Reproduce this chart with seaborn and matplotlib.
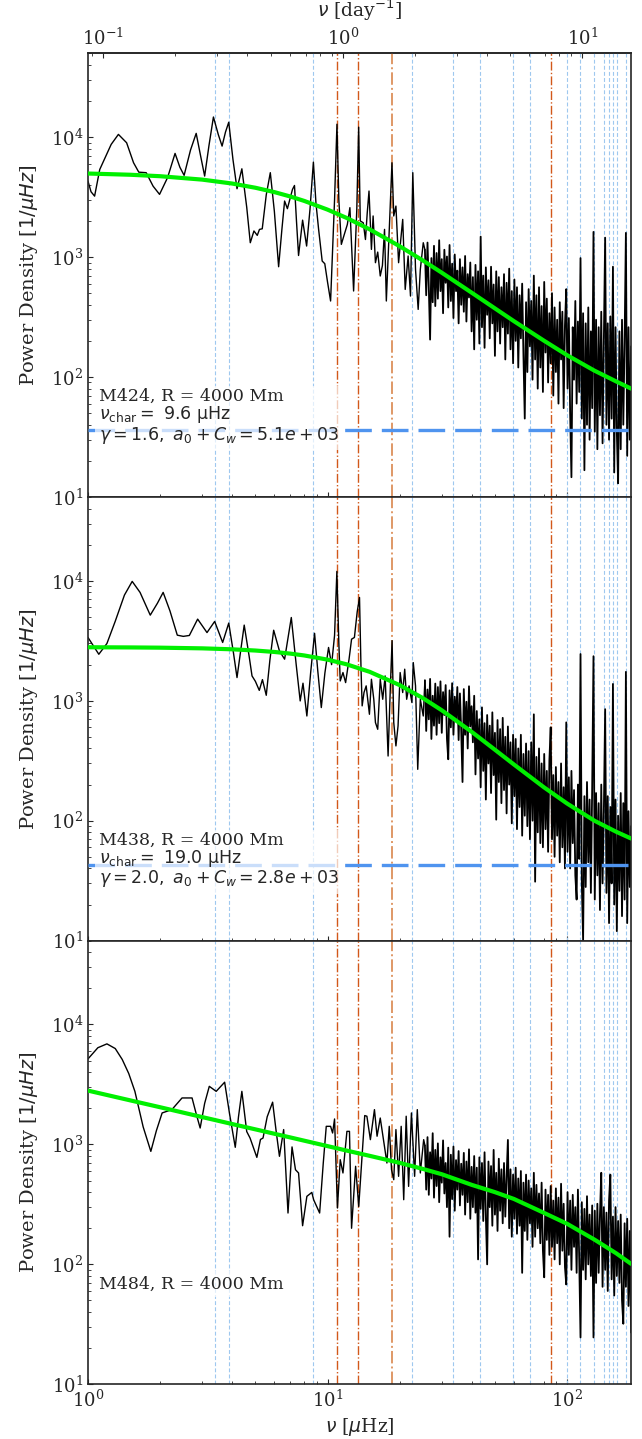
import numpy as np
import matplotlib
matplotlib.use('Agg')
import matplotlib.pyplot as plt
import seaborn as sns

# --- marked frequencies [µHz] ---
blue_lines = [3.38, 3.87, 8.73, 22.6, 33.4, 43.3, 59.3, 69.8, 100.0, 112.9,
              129.0, 143.0, 150.0, 155.6, 161.7, 177.0]
orange_lines = [10.96, 13.45, 85.8]
orange_light_lines = [18.6]

# --- panel info ---
names = ['M424', 'M438', 'M484']
nu_char = [9.6, 19.0, None]
gamma = [1.6, 2.0, None]
a0_cw = ['5.1e+03', '2.8e+03', None]
white_noise = [36.3, 42.6, None]

# --- low frequency part of the spectra ---
f1_lo = [1.0, 1.03, 1.066, 1.12, 1.25, 1.34, 1.45, 1.55, 1.63, 1.75, 1.87, 1.99, 2.15, 2.31,
         2.42, 2.52, 2.68, 2.83, 2.96, 3.07, 3.2, 3.34, 3.5, 3.63, 3.75, 3.87, 4.03, 4.19,
         4.39, 4.6, 4.76, 4.93, 5.09, 5.2, 5.34, 5.55, 5.77, 6.0, 6.25, 6.45, 6.62, 6.8,
         7.14, 7.28, 7.42, 7.57, 7.87, 8.18, 8.45, 8.73, 8.95, 9.18, 9.5, 9.74, 10.0, 10.3,
         10.7, 10.95, 11.15, 11.42, 11.7, 12.1, 12.4, 12.85, 13.25, 13.49, 13.7, 14.1, 14.4,
         14.65, 14.9, 15.25, 15.5, 15.85, 16.2, 16.6, 16.95, 17.3, 17.6, 18.2, 18.58, 18.9,
         19.3, 19.8, 20.1, 20.6, 21.1, 21.7, 22.2, 22.7, 23.3, 23.9, 24.4, 25.1]
p1_lo = [4300, 3500, 3220, 5370, 8690, 10530, 8970, 6110, 5100, 5050, 3900, 3330, 4600, 7310,
         5600, 4800, 7800, 10740, 6800, 4730, 8500, 14700, 10500, 8410, 11000, 13300, 6500, 3710,
         5440, 2600, 1316, 1650, 1515, 1700, 1720, 3300, 5050, 2400, 830, 1700, 2930, 2530,
         3660, 3950, 2000, 1030, 2030, 1235, 2500, 6190, 2800, 1700, 926, 880, 620, 430,
         3000, 12800, 3000, 1275, 1500, 1870, 2580, 521, 2500, 12100, 2000, 1930, 1400,
         2340, 3550, 1158, 2200, 897, 1100, 695, 850, 1700, 430, 2200, 6110, 2200,
         2660, 897, 1235, 2060, 537, 1020, 473, 5050, 789, 366, 789, 1316]

f2_lo = [1.0, 1.11, 1.2, 1.3, 1.42, 1.53, 1.65, 1.82, 1.95, 2.06, 2.2, 2.36, 2.5, 2.65, 2.87,
         3.14, 3.38, 3.65, 3.87, 4.05, 4.19, 4.35, 4.49, 4.7, 4.84, 5.0, 5.19, 5.35, 5.55,
         5.75, 5.96, 6.3, 6.62, 7.06, 7.4, 7.69, 7.9, 8.2, 8.5, 8.83, 9.1, 9.42, 9.75, 10.1,
         10.4, 10.7, 10.94, 11.15, 11.3, 11.6, 11.9, 12.3, 12.6, 12.95, 13.3, 13.6, 13.8,
         13.95, 14.2, 14.5, 14.96, 15.25, 15.6, 15.85, 16.2, 16.6, 17.0, 17.4, 17.9, 18.3,
         18.6, 18.9, 19.3, 19.7, 20.1, 20.6, 21.0, 21.4, 21.9, 22.5, 22.8, 23.3, 23.8, 24.4, 25.1]
p2_lo = [3370, 2440, 3000, 4600, 7600, 9880, 8000, 5170, 6500, 8000, 5600, 3520, 3440, 3500, 4790,
         3700, 4580, 3060, 4440, 2500, 1560, 2700, 4270, 2400, 1610, 1450, 1220, 1500, 1110,
         2200, 3870, 2600, 2220, 4940, 2000, 996, 1400, 746, 1700, 3650, 1800, 877, 1700, 2780,
         2000, 3500, 11970, 3000, 1462, 1718, 1416, 2220, 3260, 3370, 5500, 7260, 1832,
         906, 1170, 1330, 771, 1510, 1028, 658, 578, 1510, 1028, 1610, 346, 1330,
         3170, 658, 420, 617, 1718, 1170, 1832, 1028, 1330, 966, 2080, 1330, 268, 1028, 746]

f3_lo = [1.0, 1.1, 1.2, 1.3, 1.39, 1.48, 1.57, 1.7, 1.83, 1.93, 2.04, 2.24, 2.47, 2.72, 2.83,
         2.94, 3.07, 3.21, 3.43, 3.72, 3.9, 4.12, 4.25, 4.39, 4.6, 4.75, 5.07, 5.25, 5.38, 5.6,
         5.9, 6.1, 6.3, 6.56, 6.84, 7.11, 7.35, 7.57, 7.87, 8.2, 8.6, 8.75, 9.27, 9.6, 9.88,
         10.3, 10.5, 10.7, 11.0, 11.3, 11.6, 12.05, 12.35, 12.6, 13.1, 13.5, 14.3, 14.6, 15.1,
         15.7, 16.1, 16.6, 17.2, 17.7, 18.1, 18.5, 18.9, 19.3, 19.8, 20.3, 20.8, 21.3, 21.8,
         22.4, 23.1, 23.7, 24.4, 25.2]
p3_lo = [5160, 6400, 6890, 6300, 5110, 3900, 2770, 1400, 875, 1300, 1830, 1950, 2440, 2440, 1800,
         1370, 2200, 3050, 2770, 3300, 1800, 946, 1700, 2770, 1280, 1130, 780, 1100, 1130, 1700,
         2250, 1300, 796, 1330, 268, 953, 615, 578, 210, 369, 398, 346, 268, 700, 1415,
         1415, 1245, 1630, 295, 746, 578, 1285, 1285, 200, 657, 304, 1740, 1718, 1096,
         1950, 1170, 1660, 1030, 700, 1415, 615, 508, 1330, 542, 1415, 346, 1718, 447,
         1830, 542, 1950, 578, 1096]

f_dense = np.geomspace(25.5, 185.0, 160)
p1_hi = [1150, 480, 1320, 560, 205, 980, 420, 1240, 390, 1080,
         450, 1380, 520, 960, 340, 1150, 610, 1010, 380, 1260,
         430, 880, 310, 1050, 520, 770, 280, 960, 400, 820,
         350, 1020, 290, 720, 460, 900, 240, 680, 170, 860,
         300, 760, 190, 1480, 260, 700, 175, 820, 330, 640,
         210, 830, 280, 590, 150, 760, 240, 680, 190, 560,
         260, 720, 140, 610, 230, 800, 170, 520, 130, 650,
         200, 560, 120, 480, 210, 600, 150, 45, 420, 110,
         540, 180, 430, 95, 700, 140, 480, 80, 560, 120,
         390, 75, 620, 160, 450, 90, 340, 130, 500, 70,
         380, 110, 300, 60, 420, 140, 350, 55, 270, 540,
         80, 310, 50, 14.6, 260, 95, 430, 60, 290, 75,
         980, 45, 340, 16.7, 280, 40, 380, 30, 240, 55,
         1620, 35, 300, 25, 260, 48, 350, 28, 210, 1450,
         40, 280, 30, 320, 45, 830, 16, 260, 35, 13,
         240, 25, 300, 40, 200, 1590, 22, 260, 30, 180]
p2_hi = [1480, 560, 1240, 700, 1520, 480, 1100, 620, 1390, 520,
         1300, 650, 1450, 540, 1180, 760, 1350, 480, 325, 1220,
         600, 1400, 520, 1080, 700, 1300, 470, 1150, 560, 210,
         1250, 520, 980, 400, 1320, 610, 900, 450, 1100, 243,
         820, 330, 700, 190, 880, 260, 650, 150, 760, 300,
         620, 170, 800, 240, 540, 102, 690, 210, 580, 140,
         720, 180, 500, 115, 610, 200, 450, 95, 520, 160,
         480, 85, 400, 130, 520, 75, 360, 110, 440, 90,
         380, 70, 450, 100, 770, 31, 340, 80, 400, 65,
         300, 60, 360, 85, 260, 55, 320, 600, 70, 240,
         50, 280, 75, 210, 45, 300, 60, 190, 40, 660,
         55, 230, 40, 260, 65, 180, 35, 22, 200, 48,
         2450, 30, 10, 160, 28, 210, 45, 150, 25, 190,
         2350, 22, 170, 35, 140, 18, 200, 30, 120, 850,
         25, 160, 14, 130, 30, 1380, 20, 150, 12, 110,
         26, 170, 16, 140, 22, 1740, 14, 120, 28, 90]
p3_hi = [980, 420, 1150, 380, 860, 520, 1240, 360, 900, 450,
         1020, 330, 780, 480, 1080, 390, 700, 300, 940, 170,
         820, 350, 960, 280, 740, 420, 880, 310, 690, 380,
         850, 260, 720, 330, 910, 240, 650, 300, 800, 270,
         640, 110, 780, 290, 700, 230, 860, 250, 100, 720,
         300, 660, 210, 900, 260, 580, 190, 760, 280, 620,
         220, 700, 250, 540, 1090, 200, 620, 170, 560, 240,
         640, 180, 520, 210, 600, 85, 480, 190, 560, 160,
         500, 220, 430, 140, 580, 170, 460, 200, 390, 150,
         480, 130, 78, 420, 160, 380, 120, 450, 140, 340,
         110, 430, 150, 360, 100, 470, 130, 320, 95, 68,
         400, 120, 340, 90, 380, 140, 300, 85, 420, 110,
         24.6, 330, 90, 290, 75, 370, 100, 260, 80, 310,
         24.6, 280, 70, 320, 85, 260, 580, 65, 300, 90,
         270, 60, 340, 560, 75, 250, 55, 300, 80, 230,
         70, 260, 50, 32, 220, 65, 240, 45, 190, 27]

# --- fitted background (green curve) ---
fit_f = [1, 1.5, 2, 3, 4, 5, 6, 7, 8, 10, 12, 15, 20, 25, 30, 40, 50, 60, 80, 100, 130, 160, 185]
fit1 = [4968, 4853, 4719, 4419, 4099, 3781, 3478, 3195, 2935, 2485, 2121, 1701, 1231, 936,
        740, 504, 373, 292, 201, 152, 113, 92, 80]
fit2 = [2792, 2782, 2769, 2733, 2683, 2621, 2550, 2470, 2384, 2201, 2013, 1741, 1350, 1052,
        832, 550, 390, 294, 190, 139, 100, 81, 71]
fit3 = [2810, 2330, 2042, 1690, 1479, 1335, 1227, 1143, 1074, 968, 889, 803, 702, 625,
        564, 460, 400, 351, 269, 218, 161, 124, 101]

spectra = [(f1_lo, p1_lo, p1_hi, fit1),
           (f2_lo, p2_lo, p2_hi, fit2),
           (f3_lo, p3_lo, p3_hi, fit3)]

sns.set_style('ticks')
plt.rcParams['font.family'] = ['DejaVu Serif']
plt.rcParams['mathtext.fontset'] = 'dejavusans'
plt.rcParams['axes.linewidth'] = 1.2

fig, axes = plt.subplots(3, 1, figsize=(6.42, 14.39), dpi=100, sharex=True)
fig.subplots_adjust(left=0.137, right=0.983, top=0.963, bottom=0.038, hspace=0)

for i, ax in enumerate(axes):
    f_lo, p_lo, p_hi, fit = spectra[i]
    ax.set_xscale('log')
    ax.set_yscale('log')

    for v in blue_lines:
        ax.axvline(v, color='#9ec8ef', lw=0.8, ls=(0, (3.5, 2)), zorder=1)
    for v in orange_lines:
        ax.axvline(v, color='#d2581a', lw=1.0, ls='-.', zorder=1)
    for v in orange_light_lines:
        ax.axvline(v, color='#df9866', lw=1.4, ls='-.', zorder=1)

    # smooth low-frequency part (thin) and the dense noisy part (slightly heavier)
    sns.lineplot(x=f_lo + [f_dense[0]], y=p_lo + [p_hi[0]], ax=ax, color='black', lw=1.0,
                 estimator=None, sort=False, zorder=2)
    sns.lineplot(x=list(f_dense), y=p_hi, ax=ax, color='black', lw=1.3,
                 estimator=None, sort=False, zorder=2)
    sns.lineplot(x=fit_f, y=fit, ax=ax, color='#00f000', lw=3.0, estimator=None, zorder=3)

    if white_noise[i] is not None:
        ax.axhline(white_noise[i], color='#4f94ef', lw=2.4, ls=(0, (8, 3)), zorder=3)
        label = (f'{names[i]}, R = 4000 Mm\n'
                 + r'$\nu_{\rm char} =\ ' + f'{nu_char[i]:.1f}' + r'\ \mathrm{\mu Hz}$' + '\n'
                 + r'$\gamma = ' + f'{gamma[i]:.1f}' + r',\ a_0 + C_w = ' + a0_cw[i] + '$')
    else:
        label = f'{names[i]}, R = 4000 Mm'
    ax.text(0.02, 0.245, label, transform=ax.transAxes, va='top', ha='left', fontsize=12.5,
            linespacing=0.95,
            bbox=dict(facecolor='white', alpha=0.7, edgecolor='none', pad=3), zorder=5)

    ax.set_xlim(1, 185)
    ax.set_ylim(10, 5e4)
    ax.set_ylabel(r'Power Density [$1/\mu Hz$]', fontsize=14, labelpad=8)
    ax.tick_params(which='both', direction='in', labelsize=13)
    ax.tick_params(which='both', top=False, right=False)

axes[-1].set_xlabel(r'$\nu$ [$\mu$Hz]', fontsize=13.5)

sec = axes[0].secondary_xaxis('top', functions=(lambda x: x * 0.0864, lambda x: x / 0.0864))
sec.set_xticks([0.1, 1, 10])
sec.set_xlabel(r'$\nu$ [day$^{-1}$]', fontsize=13.5, labelpad=7)
sec.tick_params(which='both', direction='in', labelsize=13)

plt.savefig('out.png', dpi=100)
